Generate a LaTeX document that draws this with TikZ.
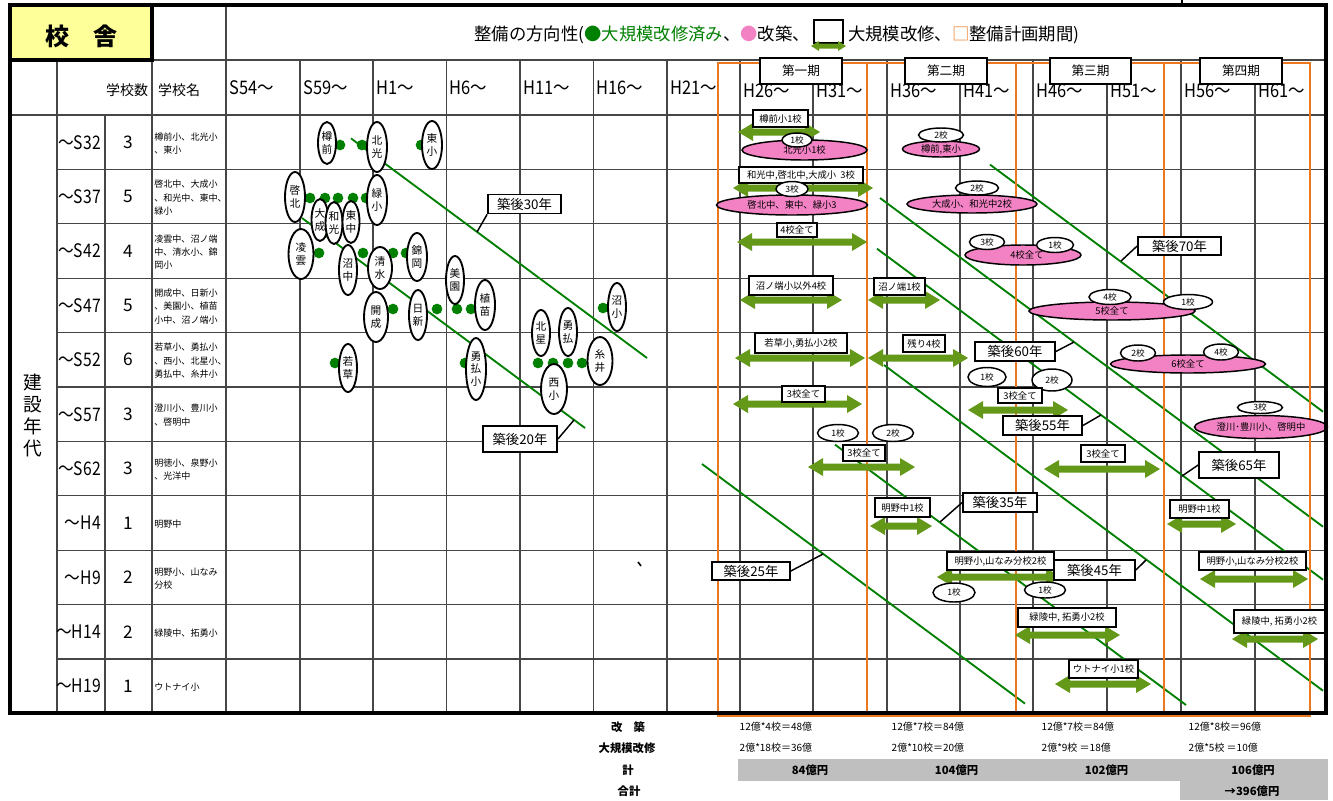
\documentclass[tikz,border=0pt]{standalone}
\usepackage{graphicx}
\usepackage{fontspec}
\setmainfont{Noto Sans CJK JP}
\usetikzlibrary{shapes.geometric}
\definecolor{gridc}{RGB}{70,70,70}
\definecolor{dkgreen}{RGB}{0,128,0}
\definecolor{arrg}{RGB}{100,152,24}
\definecolor{pinkf}{RGB}{243,130,196}
\definecolor{orng}{RGB}{235,120,30}
\definecolor{yel}{RGB}{255,255,153}
\definecolor{grayf}{RGB}{191,191,191}
\newcommand\garrx[6]{\fill[arrg] (#1,#3) -- ++(#4,-#5) -- ++(0,#5-#6) -- (#2-#4,#3-#6) -- ++(0,#6-#5) -- (#2,#3) -- ++(-#4,#5) -- ++(0,#6-#5) -- (#1+#4,#3+#6) -- ++(0,#5-#6) -- cycle;}
\newcommand\garr[3]{\garrx{#1}{#2}{#3}{15}{9}{3.5}}
\newcommand\narrow[2]{\scalebox{#1}[1]{#2}}
\begin{document}
\begin{tikzpicture}[x=0.75pt,y=-0.75pt,
  gridl/.style={draw=gridc, line width=0.9pt},
  gline/.style={draw=dkgreen, line width=1.4pt},
  gdot/.style={circle, fill=dkgreen, minimum size=8pt, inner sep=0},
  sz/.style 2 args={minimum width=#1*0.75pt, minimum height=#2*0.75pt},
  oval/.style={ellipse, draw, line width=1.4pt, fill=white, inner sep=0, align=center, font=\fontsize{8}{9.5}\selectfont},
  pell/.style={ellipse, draw, line width=1.1pt, fill=pinkf, inner sep=0, font=\fontsize{7}{8}\selectfont},
  well/.style={ellipse, draw, line width=1.1pt, fill=white, inner sep=0, font=\fontsize{6.5}{7}\selectfont},
  lbox/.style={rectangle, draw, line width=1pt, fill=white, inner sep=0.5pt, font=\fontsize{7}{8}\selectfont},
  kbox/.style={rectangle, draw, line width=1.3pt, fill=white, inner sep=1pt, font=\fontsize{10}{11}\selectfont},
  leader/.style={draw, line width=1.1pt},
  obox/.style={draw=orng, line width=1.6pt},
  pbox/.style={rectangle, draw, line width=1.4pt, fill=white, minimum width=61pt, minimum height=20pt, inner sep=0, font=\fontsize{9.5}{10}\selectfont},
  colh/.style={anchor=west, inner sep=0, font=\fontsize{14}{15}\selectfont},
  rowl/.style={anchor=east, inner sep=0, font=\fontsize{14}{15}\selectfont},
  numl/.style={font=\fontsize{13}{14}\selectfont},
  names/.style={anchor=west, align=left, inner sep=0, font=\fontsize{6.8}{10}\selectfont},
  tval/.style={anchor=west, font=\fontsize{7.5}{9}\selectfont},
  tlab/.style={font=\bfseries\fontsize{8.5}{10}\selectfont},
  tsum/.style={font=\bfseries\fontsize{8.5}{10}\selectfont},
]
\useasboundingbox (0,0) rectangle (1333,800);
\fill[white] (0,0) rectangle (1333,800);

% ---------- grid ----------
\draw[gridl] (152,60) -- (1326,60);
\draw[gridl] (10,115) -- (1326,115);
\foreach \y in {169.4,223.8,278.2,332.6,387,441.4,495.8,550.2,604.6,659}
  \draw[gridl] (57,\y) -- (1326,\y);
\draw[gridl] (57,60) -- (57,713);
\draw[gridl] (105,115) -- (105,713);
\draw[gridl] (152,5) -- (152,713);
\draw[gridl] (226,5) -- (226,713);
\foreach \x in {300,373,446.5,520,593.5,667,740,813,887,960,1033,1107,1181,1255}
  \draw[gridl] (\x,60) -- (\x,713);
\draw[line width=1pt] (1182,0) -- (1182,5);

% ---------- header texts ----------
\node[anchor=east, font=\fontsize{13}{14}\selectfont, inner sep=0] (hd1) at (810,35)
  {整備の方向性(\textcolor{dkgreen}{●大規模改修済み}、\textcolor{pinkf}{●}改築、};
\node[rectangle, draw, line width=1.5pt, minimum width=22pt, minimum height=17pt, inner sep=0] (hicon) at (828.5,31.5) {};
\garrx{811}{846}{46}{8}{5}{2.5}
\node[anchor=west, font=\fontsize{13}{14}\selectfont, inner sep=0] (hd2) at (848,35)
  {大規模改修、\textcolor{orng}{□}整備計画期間)};

\node[font=\fontsize{10.5}{12}\selectfont] (hsn) at (127,90) {学校数};
\node[font=\fontsize{10.5}{12}\selectfont] (hnm) at (179,90) {学校名};
\foreach \x/\t/\n in {226/S54/c1,300/S59/c2,373/H1/c3,446.5/H6/c4,520/H11/c5,593.5/H16/c6,667/H21/c7}
  \node[colh] (\n) at (\x+3,88) {\narrow{0.88}{\t～}};
\foreach \x/\t/\n in {740/H26/c8,813/H31/c9,887/H36/c10,960/H41/c11,1033/H46/c12,1107/H51/c13,1181/H56/c14,1255/H61/c15}
  \node[colh] (\n) at (\x+3,91) {\narrow{0.88}{\t～}};

% ---------- row labels ----------
\node[align=center, font=\fontsize{14}{16.5}\selectfont] (kn) at (33,415) {建\\設\\年\\代};
\foreach \yc/\l/\n/\s [count=\i] in {
  142.2/S32/3/{樽前小、北光小\\、東小},
  196.6/S37/5/{啓北中、大成小\\、和光中、東中、\\緑小},
  251/S42/4/{凌雲中、沼ノ端\\中、清水小、錦\\岡小},
  305.4/S47/5/{開成中、日新小\\、美園小、植苗\\小中、沼ノ端小},
  359.8/S52/6/{若草小、勇払小\\、西小、北星小、\\勇払中、糸井小},
  414.2/S57/3/{澄川小、豊川小\\、啓明中},
  468.6/S62/3/{明徳小、泉野小\\、光洋中},
  523/H4/1/{明野中},
  577.4/H9/2/{明野小、山なみ\\分校},
  631.8/H14/2/{緑陵中、拓勇小},
  686.2/H19/1/{ウトナイ小}}{
  \node[rowl] (r\i) at (101,\yc) {\narrow{0.84}{～\l}};
  \node[numl] (n\i) at (128.5,\yc) {\n};
  \node[names] (s\i) at (154,\yc+1) {\s};
}

% ---------- diagonal lines ----------
\draw[gline] (351,138.4) -- (647,358);
\draw[gline] (302,218) -- (585,428);
\draw[gline] (702,464) -- (1025,703.6);
\draw[gline] (835,444.6) -- (1186,705);
\draw[gline] (884,365) -- (1323,690.7);
\draw[gline] (877,248.7) -- (1323,579.7);
\draw[gline] (880,198) -- (1323,526.7);
\draw[gline] (990,164.6) -- (1323,411.7);

% ---------- left area: dots ----------
\foreach \p [count=\i] in {(340,145),(362,145),(421,145),
  (310,198),(325,198),(338,198),(353,198),(366,198),
  (319,253),(363,253),(393,253),(406,253),
  (393,309),(437,309),(457,309),(471,309),(603,308),
  (335,363),(465,363),(538,363),(553,363),(568,363),(582,363)}
  \node[gdot] (d\i) at \p {};

% ---------- left area: ovals ----------
\node[oval,sz={18}{42}] (o1) at (327,143) {樽\\前};
\node[oval,sz={20}{50}] (o2) at (377,147) {北\\光};
\node[oval,sz={20}{48}] (o3) at (432,145) {東\\小};
\node[oval,sz={20}{50}] (o4) at (295,197) {啓\\北};
\node[oval,sz={17}{42}] (o5) at (320,220) {大\\成};
\node[oval,sz={17}{42}] (o6) at (334,223) {和\\光};
\node[oval,sz={17}{42}] (o7) at (351,222) {東\\中};
\node[oval,sz={20}{50}] (o8) at (377,200) {緑\\小};
\node[oval,sz={25}{50}] (o9) at (301,254) {凌\\雲};
\node[oval,sz={18}{50}] (o10) at (348,270) {沼\\中};
\node[oval,sz={24}{42}] (o11) at (380,268) {清\\水};
\node[oval,sz={20}{48}] (o12) at (417,257) {錦\\岡};
\node[oval,sz={24}{50}] (o13) at (376,317) {開\\成};
\node[oval,sz={18}{50}] (o14) at (418,315) {日\\新};
\node[oval,sz={18}{48}] (o15) at (455,280) {美\\園};
\node[oval,sz={20}{50}] (o16) at (485,305) {植\\苗};
\node[oval,sz={18}{48}] (o17) at (348,368) {若\\草};
\node[oval,sz={20}{62}] (o18) at (476,369) {勇\\払\\小};
\node[oval,sz={18}{46}] (o19) at (541,333) {北\\星};
\node[oval,sz={18}{48}] (o20) at (568,332) {勇\\払};
\node[oval,sz={18}{48}] (o21) at (617,307) {沼\\小};
\node[oval,sz={25}{48}] (o22) at (600,361) {糸\\井};
\node[oval,sz={26}{50}] (o23) at (554,389) {西\\小};

\node[kbox,sz={73}{19}] (k30) at (524.5,204) {築後30年};
\coordinate (e30) at (477,232);
\draw[leader] (k30.south west) -- (e30);
\node[kbox,sz={74}{26}] (k20) at (520,439) {築後20年};
\coordinate (e20) at (574,420);
\draw[leader] (k20.east) -- (e20);
\draw[line width=1.2pt] (638,562) -- (641,566);

% ---------- orange plan periods ----------
\draw[obox] (718,63) rectangle (867,716);
\draw[obox] (867,63) rectangle (1016,716);
\draw[obox] (1016,63) rectangle (1164,716);
\draw[obox] (1164,63) rectangle (1310,716);

% ---------- right area ----------
% row 1
\garr{738}{820}{132}
\node[lbox,sz={55}{17}] (b1) at (780.5,118.5) {樽前小1校};
\node[pell,sz={125}{20}] (p1) at (804.5,150) {北光小1校};
\node[well,sz={30}{14}] (w1) at (797,140) {1校};
\node[pell,sz={77}{16}] (p2) at (941,149) {樽前,東小};
\node[well,sz={45}{14}] (w2) at (941,135) {2校};
% row 2
\garr{733}{873}{188}
\node[lbox,sz={124}{16}] (b2) at (801,175) {和光中,啓北中,大成小\ \ 3校};
\node[pell,sz={151}{20}] (p3) at (792,205) {啓北中、東中、緑小3};
\node[well,sz={32}{15}] (w3) at (792,189) {3校};
\node[pell,sz={130}{18}] (p4) at (972,204) {大成小、和光中2校};
\node[well,sz={43}{14}] (w4) at (977,188) {2校};
% row 3
\garr{737}{867}{242}
\node[lbox,sz={40}{14}] (b3) at (797,230) {4校全て};
\node[pell,sz={116}{20}] (p5) at (1023,255) {\hspace*{6pt}4校全て};
\node[well,sz={35}{15}] (w5) at (987,242) {3校};
\node[well,sz={37}{15}] (w6) at (1055,245) {1校};
% row 4
\garr{740}{842}{300}
\node[lbox,sz={84}{19}] (b4) at (791,285.5) {沼ノ端小以外4校};
\garr{868}{940}{300}
\node[lbox,sz={51}{17}] (b5) at (899.5,286.5) {沼ノ端1校};
\node[pell,sz={166}{18}] (p6) at (1112,311) {5校全て};
\node[well,sz={42}{15}] (w7) at (1110,297) {4校};
\node[well,sz={49}{15}] (w8) at (1188,302) {1校};
% row 5
\garr{735}{865}{358}
\node[lbox,sz={92}{20}] (b6) at (801,343) {若草小,勇払小2校};
\garr{868}{968}{358}
\node[lbox,sz={42}{17}] (b7) at (924,343.5) {残り4校};
\node[kbox,sz={80}{19}] (k60) at (1015,351.5) {築後60年};
\coordinate (e60) at (1074,342);
\draw[leader] (k60.east) -- (e60);
\node[well,sz={38}{19}] (w9) at (987,377) {1校};
\node[well,sz={40}{22}] (w10) at (1052,380) {2校};
\node[pell,sz={155}{18}] (p7) at (1188,364) {6校全て};
\node[well,sz={35}{16}] (w11) at (1138,353) {2校};
\node[well,sz={35}{16}] (w12) at (1221,352) {4校};
% row 6
\garr{733}{862}{404}
\node[lbox,sz={43}{16}] (b8) at (803.5,394) {3校全て};
\garr{968}{1068}{410}
\node[lbox,sz={44}{15}] (b9) at (1020,395.5) {3校全て};
\node[kbox,sz={79}{19}] (k55) at (1042.5,425.5) {築後55年};
\coordinate (e55) at (1101,415);
\draw[leader] (k55.east) -- (e55);
\node[pell,sz={133}{23}] (p8) at (1261,427) {澄川･豊川小、啓明中};
\node[well,sz={45}{12}] (w13) at (1260,407.5) {3校};
% row 7
\node[well,sz={41}{17}] (w14) at (838,433) {1校};
\node[well,sz={41}{17}] (w15) at (893,433) {2校};
\garr{808}{915}{467}
\node[lbox,sz={42}{16}] (b10) at (864,453) {3校全て};
\garr{1044}{1160}{469}
\node[lbox,sz={44}{17}] (b11) at (1103,453.5) {3校全て};
\node[kbox,sz={80}{26}] (k65) at (1239,465) {築後65年};
\coordinate (e65) at (1182,476);
\draw[leader] (k65.west) -- (e65);
% row 8
\garr{870}{932}{526}
\node[lbox,sz={55}{19}] (b12) at (902.5,507.5) {明野中1校};
\node[kbox,sz={74}{19}] (k35) at (1000,502.5) {築後35年};
\coordinate (e35) at (940,522);
\draw[leader] (k35.west) -- (e35);
\garr{1167}{1236}{524}
\node[lbox,sz={59}{18}] (b13) at (1199.5,509) {明野中1校};
% row 9
\node[kbox,sz={78}{18}] (k25) at (751,571) {築後25年};
\coordinate (e25) at (823,554);
\draw[leader] (k25.east) -- (e25);
\garr{937}{1061}{577}
\node[lbox,sz={107}{18}] (b14) at (1000.5,561) {明野小,山なみ分校2校};
\node[well,sz={42}{19}] (w16) at (954,592.5) {1校};
\node[well,sz={41}{16}] (w17) at (1045,590) {1校};
\node[kbox,sz={81}{20}] (k45) at (1094.5,570) {築後45年};
\coordinate (e45) at (1146,560);
\draw[leader] (k45.east) -- (e45);
\garr{1200}{1308}{579}
\node[lbox,sz={107}{18}] (b15) at (1252.5,561) {明野小,山なみ分校2校};
% row 10
\garr{1015}{1120}{635}
\node[lbox,sz={98}{19}] (b16) at (1067,617.5) {緑陵中, 拓勇小2校};
\garr{1232}{1318}{639}
\node[lbox,sz={91}{23}] (b17) at (1279.5,621.5) {緑陵中, 拓勇小2校};
% row 11
\garr{1055}{1151}{684}
\node[lbox,sz={69}{18}] (b18) at (1103.5,669) {ウトナイ小1校};
% 70
\node[kbox,sz={83}{18}] (k70) at (1179.5,246) {築後70年};
\coordinate (e70) at (1121,261);
\draw[leader] (k70.west) -- (e70);

% ---------- frame ----------
\draw[line width=2.4pt] (10,5) rectangle (1326,713);
\draw[line width=2.4pt, fill=yel] (10,5) rectangle (152,60);
\node[font=\bfseries\fontsize{18}{20}\selectfont] (ttl) at (81,36) {校　舎};

% ---------- period labels ----------
\node[pbox] (ph1) at (801,71) {第一期};
\node[pbox] (ph2) at (946,71) {第二期};
\node[pbox] (ph3) at (1090.5,71) {第三期};
\node[pbox] (ph4) at (1241,71) {第四期};

% ---------- bottom table ----------
\fill[grayf] (738,759) rectangle (1328,781);
\fill[grayf] (1180,781) rectangle (1328,800);
\node[tlab] (t1) at (628,727) {改　築};
\node[tlab] (t2) at (627,748) {大規模改修};
\node[tlab] (t3) at (628,770) {計};
\node[tlab] (t4) at (629,791) {合計};
\node[tval] (v11) at (735,727) {12億*4校＝48億};
\node[tval] (v12) at (887,727) {12億*7校＝84億};
\node[tval] (v13) at (1037,727) {12億*7校＝84億};
\node[tval] (v14) at (1184,727) {12億*8校＝96億};
\node[tval] (v21) at (735,748) {2億*18校＝36億};
\node[tval] (v22) at (887,748) {2億*10校＝20億};
\node[tval] (v23) at (1037,748) {2億*9校 ＝18億};
\node[tval] (v24) at (1184,748) {2億*5校 ＝10億};
\node[tsum, anchor=east] (s31) at (833,770) {84億円};
\node[tsum, anchor=east] (s32) at (983,770) {104億円};
\node[tsum, anchor=east] (s33) at (1133,770) {102億円};
\node[tsum] (s34) at (1253,770) {106億円};
\node[tsum] (s44) at (1252,791) {→396億円};
\end{tikzpicture}
\end{document}
